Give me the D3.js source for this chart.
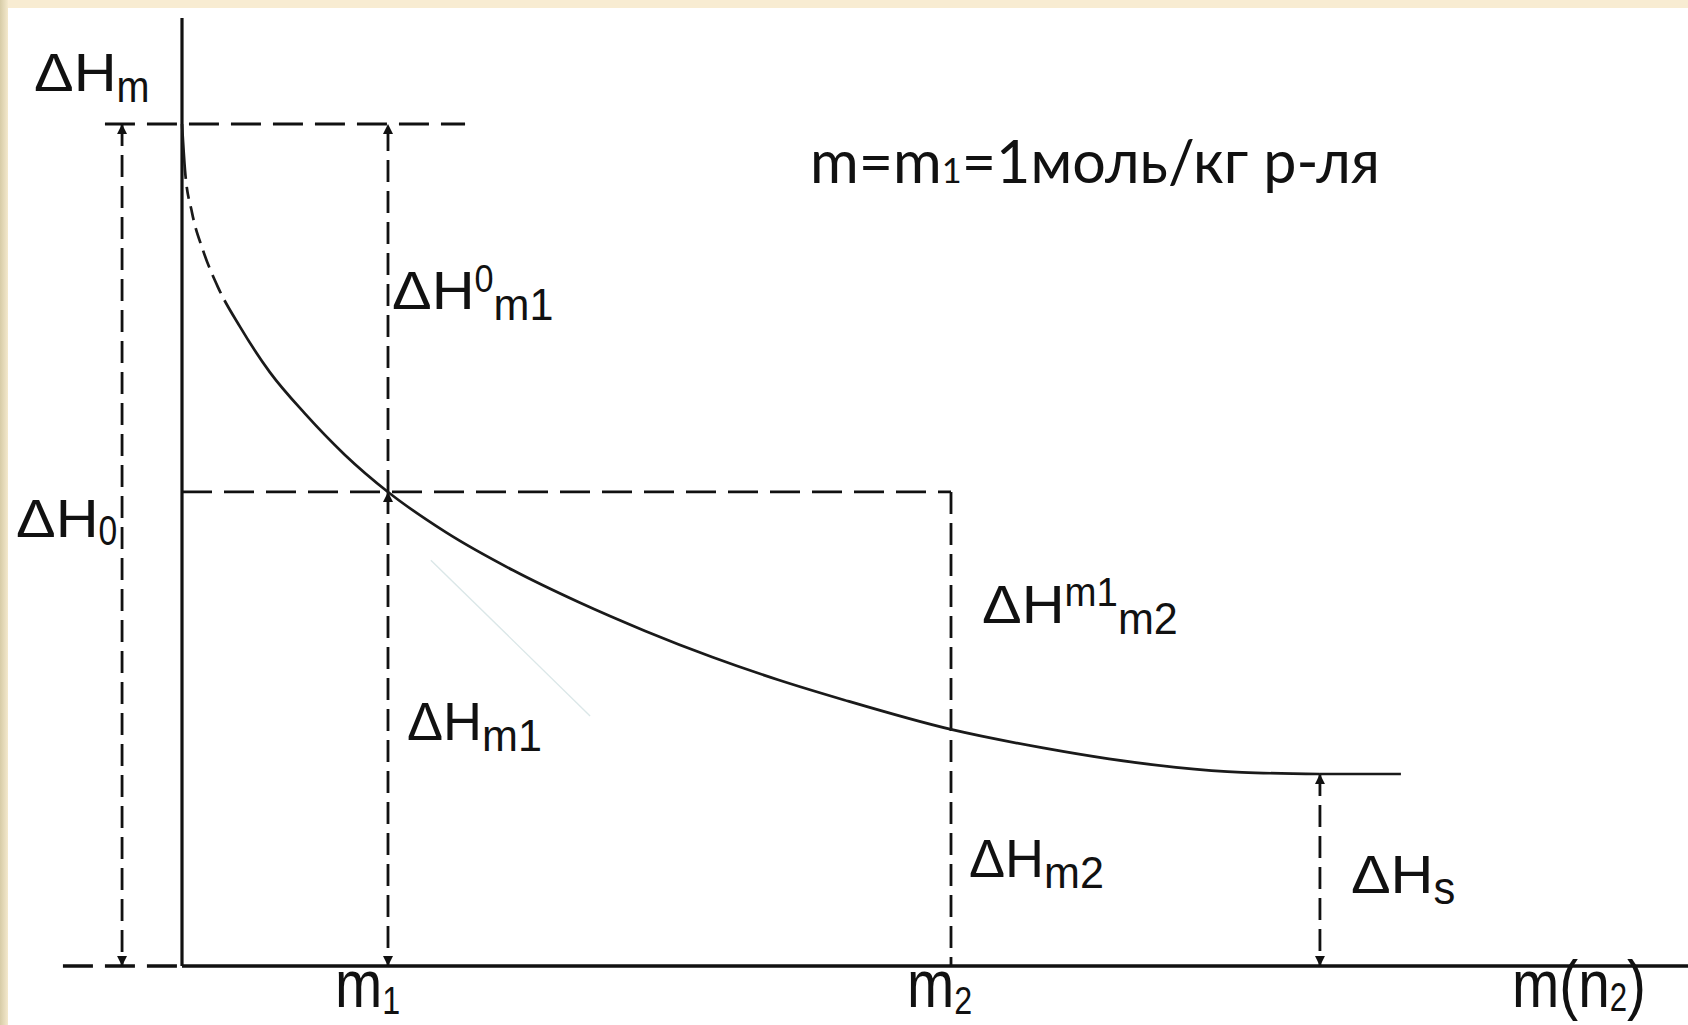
<!DOCTYPE html>
<html>
<head>
<meta charset="utf-8">
<script src="https://cdn.jsdelivr.net/npm/d3@7"></script>
<style>
  html, body { margin: 0; padding: 0; background: #fff; }
  svg { display: block; }
  .lbl { font-family: "Liberation Sans", Arial, sans-serif; fill: #111; }
  .title { font-family: Lato, "Open Sans", sans-serif; fill: #111; }
</style>
</head>
<body>
<svg id="chart" width="1688" height="1025"></svg>
<script>
// Integral heat of solution vs. molality (schematic)
const curveM = [0, 0.0146, 0.0485, 0.102, 0.175, 0.282, 0.427, 0.597, 0.791, 1.000,
                1.282, 1.607, 1.927, 2.248, 2.573, 2.893, 3.214, 3.733, 4.180, 4.500,
                4.825, 5.146, 5.524];
const curveH = [10.00, 9.45, 8.95, 8.50, 8.06, 7.59, 7.05, 6.56, 6.07, 5.63,
                5.15, 4.70, 4.32, 3.98, 3.67, 3.40, 3.16, 2.81, 2.59, 2.46,
                2.36, 2.30, 2.28];
const plateauM = [5.524, 5.917];

const keyNames = ["m1", "m2", "ms"];
const keyM = [1, 3.733, 5.524];
const keyH = [5.63, 2.81, 2.28];
const dH0 = 10;

// faint tangent stroke visible in the scan
const tangentM = [1.208, 1.981];
const tangentH = [4.82, 2.97];

const titleText = ["m=m", "1", "=1моль/кг р-ля"];

// ---------- layout ----------
const W = 1688, H = 1025;
const svg = d3.select('#chart');

const x = d3.scaleLinear().domain([0, 1]).range([182, 388]);
const y = d3.scaleLinear().domain([0, 10]).range([966, 124]);

// background: white sheet with a cream frame top/left
const defs = svg.append('defs');
const grad = defs.append('linearGradient').attr('id', 'edge').attr('x1', 0).attr('x2', 1);
grad.append('stop').attr('offset', 0).attr('stop-color', '#d7cca7');
grad.append('stop').attr('offset', 1).attr('stop-color', '#f4e9cd');
svg.append('rect').attr('width', W).attr('height', H).attr('fill', '#fff');
svg.append('rect').attr('width', W).attr('height', 8).attr('fill', '#f8ecd2');
svg.append('rect').attr('width', 8).attr('height', H).attr('fill', 'url(#edge)');

// arrow head
defs.append('marker')
  .attr('id', 'arr')
  .attr('viewBox', '0 0 10 10')
  .attr('refX', 10).attr('refY', 5)
  .attr('markerWidth', 11).attr('markerHeight', 10)
  .attr('markerUnits', 'userSpaceOnUse')
  .attr('orient', 'auto-start-reverse')
  .append('path').attr('d', 'M0,0 L10,5 L0,10 Z').attr('fill', '#111');

const g = svg.append('g');

function seg(x1, y1, x2, y2, dash, w, opts) {
  const l = g.append('line')
    .attr('x1', x(x1)).attr('y1', y(y1))
    .attr('x2', x(x2)).attr('y2', y(y2))
    .attr('stroke', '#111')
    .attr('stroke-width', w || 2.8);
  if (dash) l.attr('stroke-dasharray', dash);
  if (opts && opts.start) l.attr('marker-start', 'url(#arr)');
  if (opts && opts.end) l.attr('marker-end', 'url(#arr)');
  return l;
}

const HD = '30 12', VD = '22 9';
const [m1, m2, ms] = keyM;
const [h1, h2, hs] = keyH;

// axes
seg(0, 0, 0, 11.26, null, 3.2);          // vertical axis
seg(0, 0, 7.32, 0, null, 3.6);           // horizontal axis
seg(-0.578, 0, 0, 0, HD, 3.4);           // dashed stub left of origin

// guide lines
seg(-0.374, dH0, 1.374, dH0, HD);        // level of ΔH0
seg(0, h1, m2, h1, HD);                  // level at m1
seg(m2, h1, m2, 0, VD);                  // drop at m2
seg(-0.291, dH0, -0.291, 0, VD, 2.8, { start: true, end: true }); // ΔH0
seg(m1, h1, m1, dH0, VD, 2.8, { end: true });                     // ΔH0 m1
seg(m1, h1, m1, 0, VD, 2.8, { start: true, end: true });          // ΔH m1
seg(ms, hs, ms, 0, VD, 2.8, { start: true, end: true });          // ΔH s

// faint tangent
g.append('line')
  .attr('x1', x(tangentM[0])).attr('y1', y(tangentH[0]))
  .attr('x2', x(tangentM[1])).attr('y2', y(tangentH[1]))
  .attr('stroke', '#dbe7e8').attr('stroke-width', 1.4);

// curve
const pts = curveM.map((m, i) => [m, curveH[i]]);
const line = d3.line().x(d => x(d[0])).y(d => y(d[1])).curve(d3.curveMonotoneX);
const curve = g.append('path')
  .attr('d', line(pts))
  .attr('fill', 'none')
  .attr('stroke', '#1a1a1a')
  .attr('stroke-width', 2.7);
// top part of the curve is broken in the original
const total = curve.node().getTotalLength();
curve.attr('stroke-dasharray', [55, 8, 12, 8, 14, 8, 16, 8, 18, 8, 20, 8, total].join(' '));

g.append('line')
  .attr('x1', x(plateauM[0])).attr('y1', y(hs))
  .attr('x2', x(plateauM[1])).attr('y2', y(hs))
  .attr('stroke', '#1a1a1a').attr('stroke-width', 2.7);

// ---------- labels ----------
const MAIN = { size: 54, sx: 1.1 };
const SUB  = { size: 44, sx: 0.98, dy: 11 };
const SUP  = { size: 40, sx: 0.96, dy: -17 };
const AXM  = { size: 66, sx: 0.86 };
const AXS  = { size: 38, sx: 0.85, dy: 7 };

function label(x0, y0, parts) {
  let cx = x0;
  parts.forEach(([txt, st]) => {
    const t = g.append('text').attr('class', 'lbl')
      .style('font-size', st.size + 'px').text(txt);
    const w = t.node().getComputedTextLength() * st.sx;
    t.attr('transform', `translate(${cx},${y0 + (st.dy || 0)}) scale(${st.sx},1)`);
    cx += w;
  });
}

label(34, 91, [['ΔH', MAIN], ['m', { size: 44, sx: 0.9, dy: 11 }]]);
label(x(m1) + 4, 309, [['ΔH', MAIN], ['0', { size: 38, sx: 0.9, dy: -17 }], ['m1', SUB]]);
label(16, 537, [['ΔH', MAIN], ['0', { size: 42, sx: 0.8, dy: 8 }]]);
label(x(m1) + 19, 740, [['ΔH', { size: 54, sx: 1.0 }], ['m1', SUB]]);
label(x(m2) + 31, 623, [['ΔH', MAIN], ['m1', SUP], ['m2', SUB]]);
label(x(m2) + 18, 877, [['ΔH', { size: 54, sx: 1.0 }], ['m2', SUB]]);
label(x(ms) + 31, 893, [['ΔH', MAIN], ['s', { size: 46, sx: 0.95, dy: 11 }]]);

label(x(m1) - 53, 1007, [['m', AXM], ['1', AXS]]);
label(x(m2) - 44, 1007, [['m', AXM], ['2', AXS]]);
label(1512, 1007, [['m(n', AXM], ['2', { size: 40, sx: 0.78, dy: 4 }], [')', AXM]]);

// note at top right, fitted to the width in the picture
const note = svg.append('text').attr('class', 'title')
  .attr('x', 810).attr('y', 183).style('font-size', '52px');
note.append('tspan').text(titleText[0]);
note.append('tspan').style('font-size', '30px').text(titleText[1]);
note.append('tspan').text(titleText[2]);
const nw = note.node().getComputedTextLength();
const fs = 52 * 570 / nw;
note.style('font-size', fs + 'px');
note.select('tspan:nth-child(2)').style('font-size', (fs * 0.58) + 'px');
</script>
</body>
</html>
